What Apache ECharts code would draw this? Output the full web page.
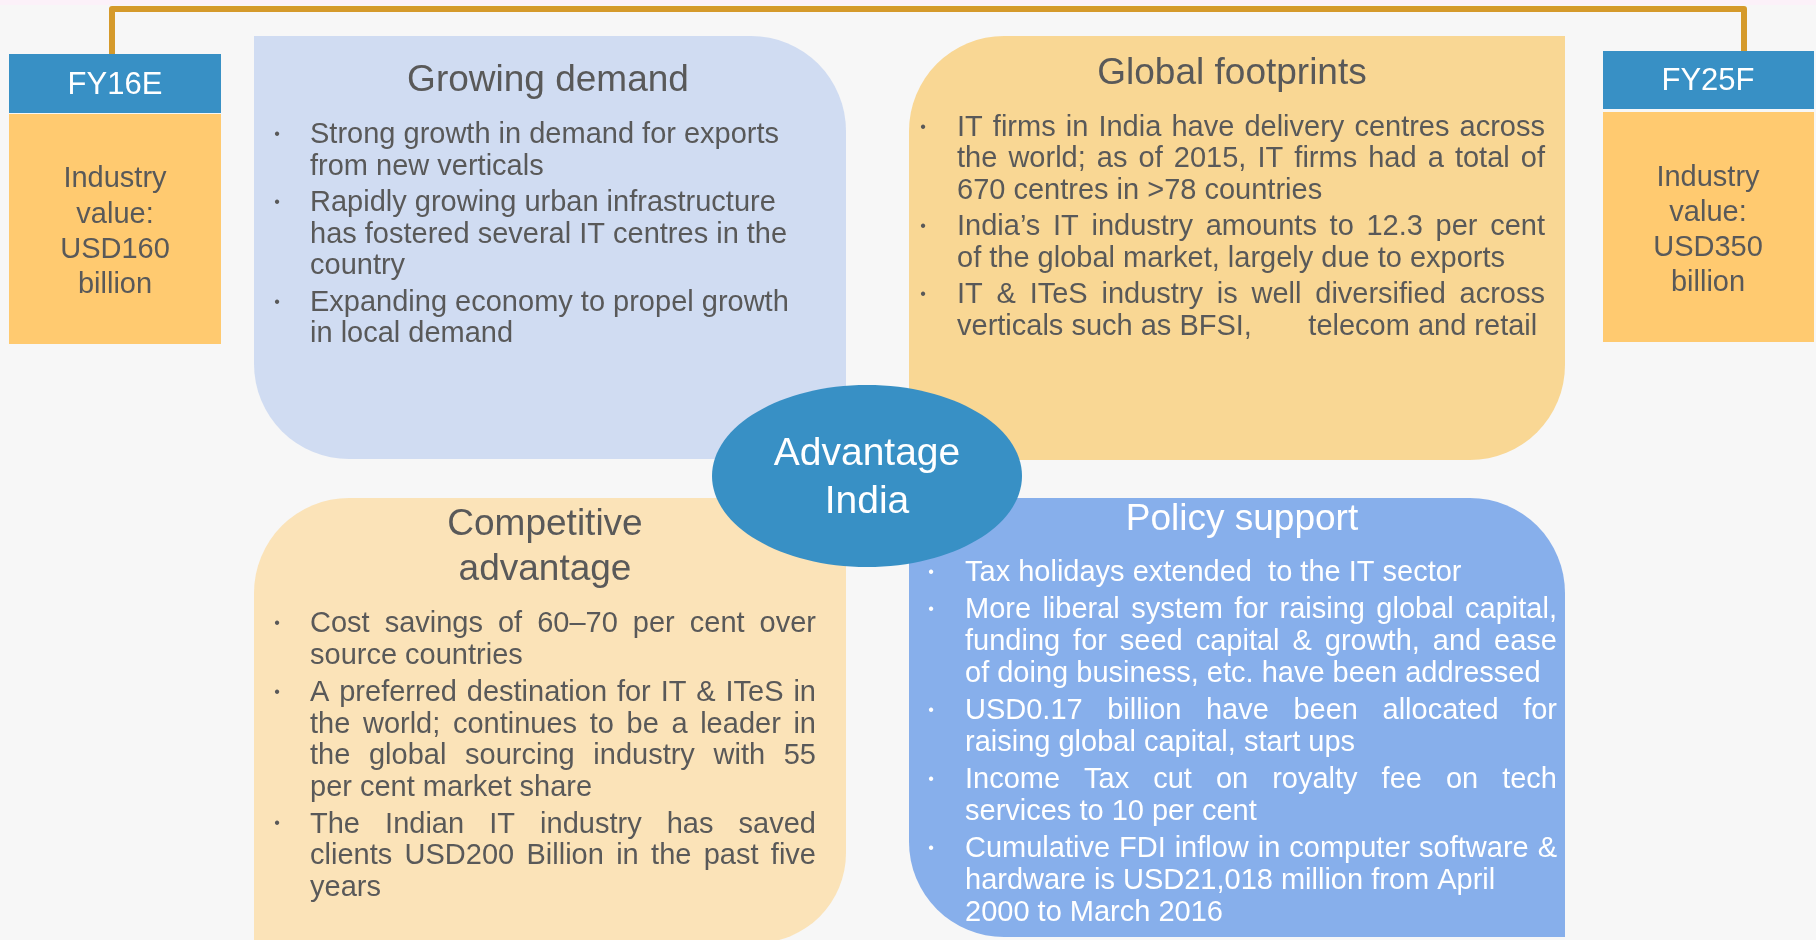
<!DOCTYPE html>
<html>
<head>
<meta charset="utf-8">
<title>Advantage India</title>
<script src="https://cdn.jsdelivr.net/npm/echarts@6.0.0/dist/echarts.min.js"></script>
<style>
  html, body { margin: 0; padding: 0; background: #f7f7f7; }
  #chartMain { width: 1816px; height: 940px; }
</style>
</head>
<body>
<div id="chartMain"></div>
<script>
// ---- content ----
const centreTitle = ['Advantage', 'India'];
const startLabel = 'FY16E';
const endLabel = 'FY25F';
const startValue = ['Industry', 'value:', 'USD160', 'billion'];
const endValue = ['Industry', 'value:', 'USD350', 'billion'];

const demandTitle = ['Growing demand'];
const demandPoints = [
  ['Strong growth in demand for exports', 'from new verticals'],
  ['Rapidly growing urban infrastructure', 'has fostered several IT centres in the', 'country'],
  ['Expanding economy to propel growth', 'in local demand']
];

const footprintTitle = ['Global footprints'];
const footprintPoints = [
  ['IT firms in India have delivery centres across', 'the world; as of 2015, IT firms had a total of', '670 centres in >78 countries'],
  ['India\u2019s IT industry amounts to 12.3 per cent', 'of the global market, largely due to exports'],
  ['IT & ITeS industry is well diversified across', 'verticals such as BFSI,       telecom and retail']
];

const competitiveTitle = ['Competitive', 'advantage'];
const competitivePoints = [
  ['Cost savings of 60\u201370 per cent over', 'source countries'],
  ['A preferred destination for IT & ITeS in', 'the world; continues to be a leader in', 'the global sourcing industry with 55', 'per cent market share'],
  ['The Indian IT industry has saved', 'clients USD200 Billion in the past five', 'years']
];

const policyTitle = ['Policy support'];
const policyPoints = [
  ['Tax holidays extended  to the IT sector'],
  ['More liberal system for raising global capital,', 'funding for seed capital & growth, and ease', 'of doing business, etc. have been addressed'],
  ['USD0.17 billion have been allocated for', 'raising global capital, start ups'],
  ['Income Tax cut on royalty fee on tech', 'services to 10 per cent'],
  ['Cumulative FDI inflow in computer software &', 'hardware is USD21,018 million from April', '2000 to March 2016']
];
// lines that were broken by hand in the source and are not stretched
const raggedLines = ['hardware is USD21,018 million from April'];

// ---- styling ----
const FONT = '"Liberation Sans", Arial, sans-serif';
const GREY = '#595959';
const WHITE = '#ffffff';
const BODY_SIZE = 29;
const measure = document.createElement('canvas').getContext('2d');

function label(text, x, y, size, color, align) {
  return {
    type: 'text',
    x: x,
    // canvas "middle" sits a little above the cap centre, nudge down
    y: y + size * 0.05,
    z: 10,
    silent: true,
    style: {
      text: text,
      fontSize: size,
      fontFamily: FONT,
      fill: color,
      align: align || 'center',
      verticalAlign: 'middle'
    }
  };
}

function stack(lines, x, y, lh, size, color) {
  return lines.map((t, i) => label(t, x, y + i * lh, size, color, 'center'));
}

function bullets(paras, opt) {
  const out = [];
  let y = opt.y;
  measure.font = BODY_SIZE + 'px ' + FONT;
  paras.forEach((lines) => {
    out.push(label('\u2022', opt.bulletX, y, 16, opt.color, 'center'));
    lines.forEach((line, i) => {
      const last = i === lines.length - 1;
      const words = line.split(' ').filter(Boolean);
      if (opt.width && !last && words.length > 1 && raggedLines.indexOf(line) < 0) {
        // justified line: spread the words over the full width
        const sum = words.reduce((s, w) => s + measure.measureText(w).width, 0);
        const space = (opt.width - sum) / (words.length - 1);
        let cx = opt.x;
        words.forEach((w) => {
          out.push(label(w, cx, y, BODY_SIZE, opt.color, 'left'));
          cx += measure.measureText(w).width + space;
        });
      } else {
        out.push(label(line, opt.x, y, BODY_SIZE, opt.color, 'left'));
      }
      y += opt.lh;
    });
    y += opt.gap;
  });
  return out;
}

function box(x, y, w, h, r, color) {
  return { type: 'rect', z: 1, silent: true, shape: { x: x, y: y, width: w, height: h, r: r }, style: { fill: color } };
}

const BLUE = '#3890c5';
const GOLD = '#ffca70';

let elements = [
  // thin top strip
  { type: 'rect', z: 0, silent: true, shape: { x: 0, y: 0, width: 1816, height: 5 }, style: { fill: '#fcf1f9' } },
  // connector line between the two year boxes
  {
    type: 'polyline', z: 2, silent: true,
    shape: { points: [[112, 54], [112, 9], [1744, 9], [1744, 51]] },
    style: { stroke: '#d59a2b', lineWidth: 6, lineJoin: 'round', fill: null }
  },
  box(9, 54, 212, 59, 0, BLUE),
  box(9, 114, 212, 230, 0, GOLD),
  box(1603, 51, 211, 58, 0, BLUE),
  box(1603, 112, 211, 230, 0, GOLD),
  box(254, 36, 592, 423, [0, 95, 0, 95], '#d0dcf2'),
  box(909, 36, 656, 424, [95, 0, 95, 0], '#f9d794'),
  box(254, 498, 592, 445, [95, 0, 90, 0], '#fbe3b8'),
  box(909, 498, 656, 439, [12, 95, 0, 95], '#87afeb'),
  {
    type: 'ellipse', z: 5, silent: true,
    shape: { cx: 867, cy: 476, rx: 155, ry: 91 },
    style: { fill: BLUE }
  }
];

elements.push(label(startLabel, 115, 84, 31, WHITE));
elements.push(label(endLabel, 1708, 80, 31, WHITE));
elements = elements.concat(stack(startValue, 115, 178, 35.2, 29, GREY));
elements = elements.concat(stack(endValue, 1708, 177, 35, 29, GREY));
elements = elements.concat(stack(centreTitle, 867, 452, 48, 39, WHITE));

elements = elements.concat(stack(demandTitle, 548, 79, 44, 37, GREY));
elements = elements.concat(stack(footprintTitle, 1232, 72, 44, 37, GREY));
elements = elements.concat(stack(competitiveTitle, 545, 523, 45, 37, GREY));
elements = elements.concat(stack(policyTitle, 1242, 518, 44, 37, WHITE));

elements = elements.concat(bullets(demandPoints, { x: 310, bulletX: 277, y: 134, lh: 31.5, gap: 5, width: null, color: GREY }));
elements = elements.concat(bullets(footprintPoints, { x: 957, bulletX: 923, y: 126.5, lh: 31.5, gap: 5, width: 588, color: GREY }));
elements = elements.concat(bullets(competitivePoints, { x: 310, bulletX: 277, y: 623, lh: 31.7, gap: 5, width: 506, color: GREY }));
elements = elements.concat(bullets(policyPoints, { x: 965, bulletX: 931, y: 572, lh: 32, gap: 5, width: 592, color: WHITE }));

const chart = echarts.init(document.getElementById('chartMain'));
chart.setOption({
  backgroundColor: '#f7f7f7',
  animation: false,
  graphic: { elements: elements }
});
window.addEventListener('resize', function() {
  chart.resize();
});
</script>
</body>
</html>
